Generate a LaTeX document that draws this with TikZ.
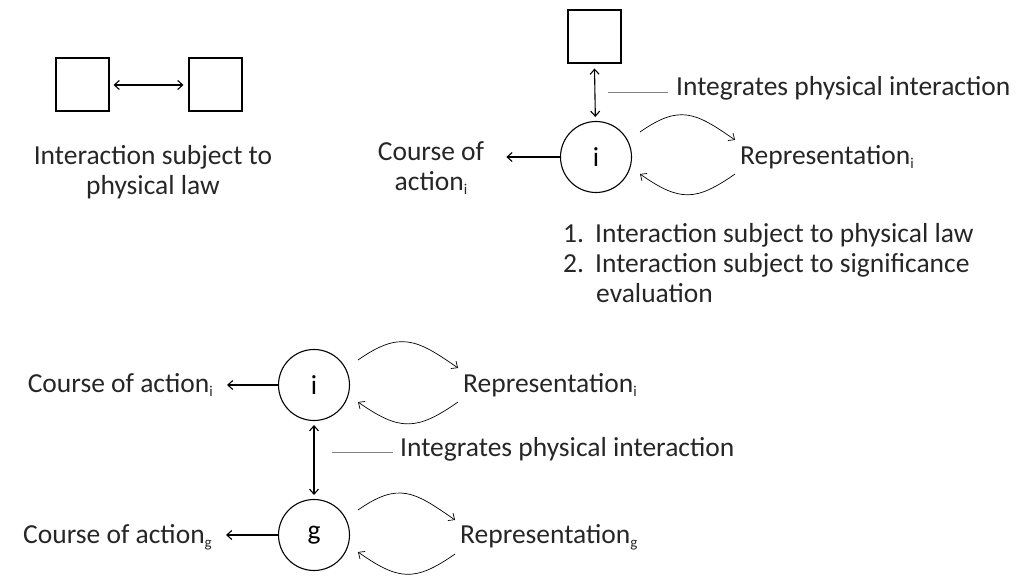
\documentclass[tikz,border=0pt]{standalone}
\usepackage{fontspec}
\setmainfont{Carlito}
\usetikzlibrary{arrows.meta}

\tikzset{
  box/.style={draw, line width=2pt, minimum size=53pt, inner sep=0pt},
  agent/.style={draw, circle, line width=1.1pt, minimum size=71pt, inner sep=0pt},
  txt/.style={inner sep=3pt, text=black!85},
  link/.style={<->, line width=1.1pt, shorten <=4pt, shorten >=4pt},
  act/.style={->, line width=1.1pt},
  cyc/.style={->, line width=0.7pt, looseness=1.3},
  lead/.style={gray, line width=0.7pt},
}
% two curved arrows between an agent and its representation
\newcommand{\reploop}[2]{%
  \draw[cyc] ([shift={(44,25)}]#1.center) to[out=35,in=145] ([shift={(-2,17)}]#2.west);
  \draw[cyc] ([shift={(-2,-17)}]#2.west) to[out=-145,in=-35] ([shift={(44,-17)}]#1.center);
}
\newcommand{\lowsub}[1]{\raisebox{-4pt}{\fontsize{15}{15}\selectfont #1}}

\begin{document}
\begin{tikzpicture}[x=1pt,y=1pt,>={Straight Barb[length=5pt,width=9pt]},
    font=\fontsize{27.5}{30}\selectfont]
    \useasboundingbox (0,0) rectangle (1033,-577);

    % two bodies
    \node[box] (b1) at (82,-85) {};
    \node[box] (b2) at (215,-85) {};
    \draw[link] (b1) -- (b2);
    \node[txt,align=center] (law) at (153,-172) {Interaction subject to\\physical law};

    % one agent
    \node[box] (b3) at (594,-37) {};
    \node[agent] (ci1) at (596,-157) {i};
    \draw[link] (b3) -- (ci1);
    \coordinate (l1) at (608,-92);
    \node[txt,anchor=west,inner xsep=8pt] (int1) at (668,-88) {Integrates physical interaction};
    \draw[lead] (l1) -- (l1 -| int1.west);
    \node[txt,align=center,inner xsep=22pt] (coa1) at (431,-168) {Course of\\action\lowsub{i}};
    \draw[act] (ci1.west) -- (ci1.west -| coa1.east);
    \node[txt,anchor=west] (rep1) at (737,-157) {Representation\lowsub{i}};
    \reploop{ci1}{rep1}
    \node[txt,anchor=west,align=left] (list) at (560,-263)
        {\makebox[32pt][l]{1.}Interaction subject to physical law\\
         \makebox[32pt][l]{2.}Interaction subject to significance\\
         \hspace*{33pt}evaluation};

    % agent and group
    \node[agent] (ci2) at (314,-385) {i};
    \node[agent] (cg) at (314,-535) {g};
    \draw[link] (ci2) -- (cg);
    \coordinate (l2) at (332,-452);
    \node[txt,anchor=west,inner xsep=7pt] (int2) at (393,-449) {Integrates physical interaction};
    \draw[lead] (l2) -- (l2 -| int2.west);
    \node[txt,anchor=east,inner xsep=14pt] (coa2) at (227,-385) {Course of action\lowsub{i}};
    \node[txt,anchor=east,inner xsep=14pt] (coa3) at (226,-537) {Course of action\lowsub{g}};
    \draw[act] (ci2.west) -- (ci2.west -| coa2.east);
    \draw[act] (cg.west) -- (cg.west -| coa3.east);
    \node[txt,anchor=west] (rep2) at (460,-385) {Representation\lowsub{i}};
    \node[txt,anchor=west] (rep3) at (457,-537) {Representation\lowsub{g}};
    \reploop{ci2}{rep2}
    \reploop{cg}{rep3}

\end{tikzpicture}
\end{document}
